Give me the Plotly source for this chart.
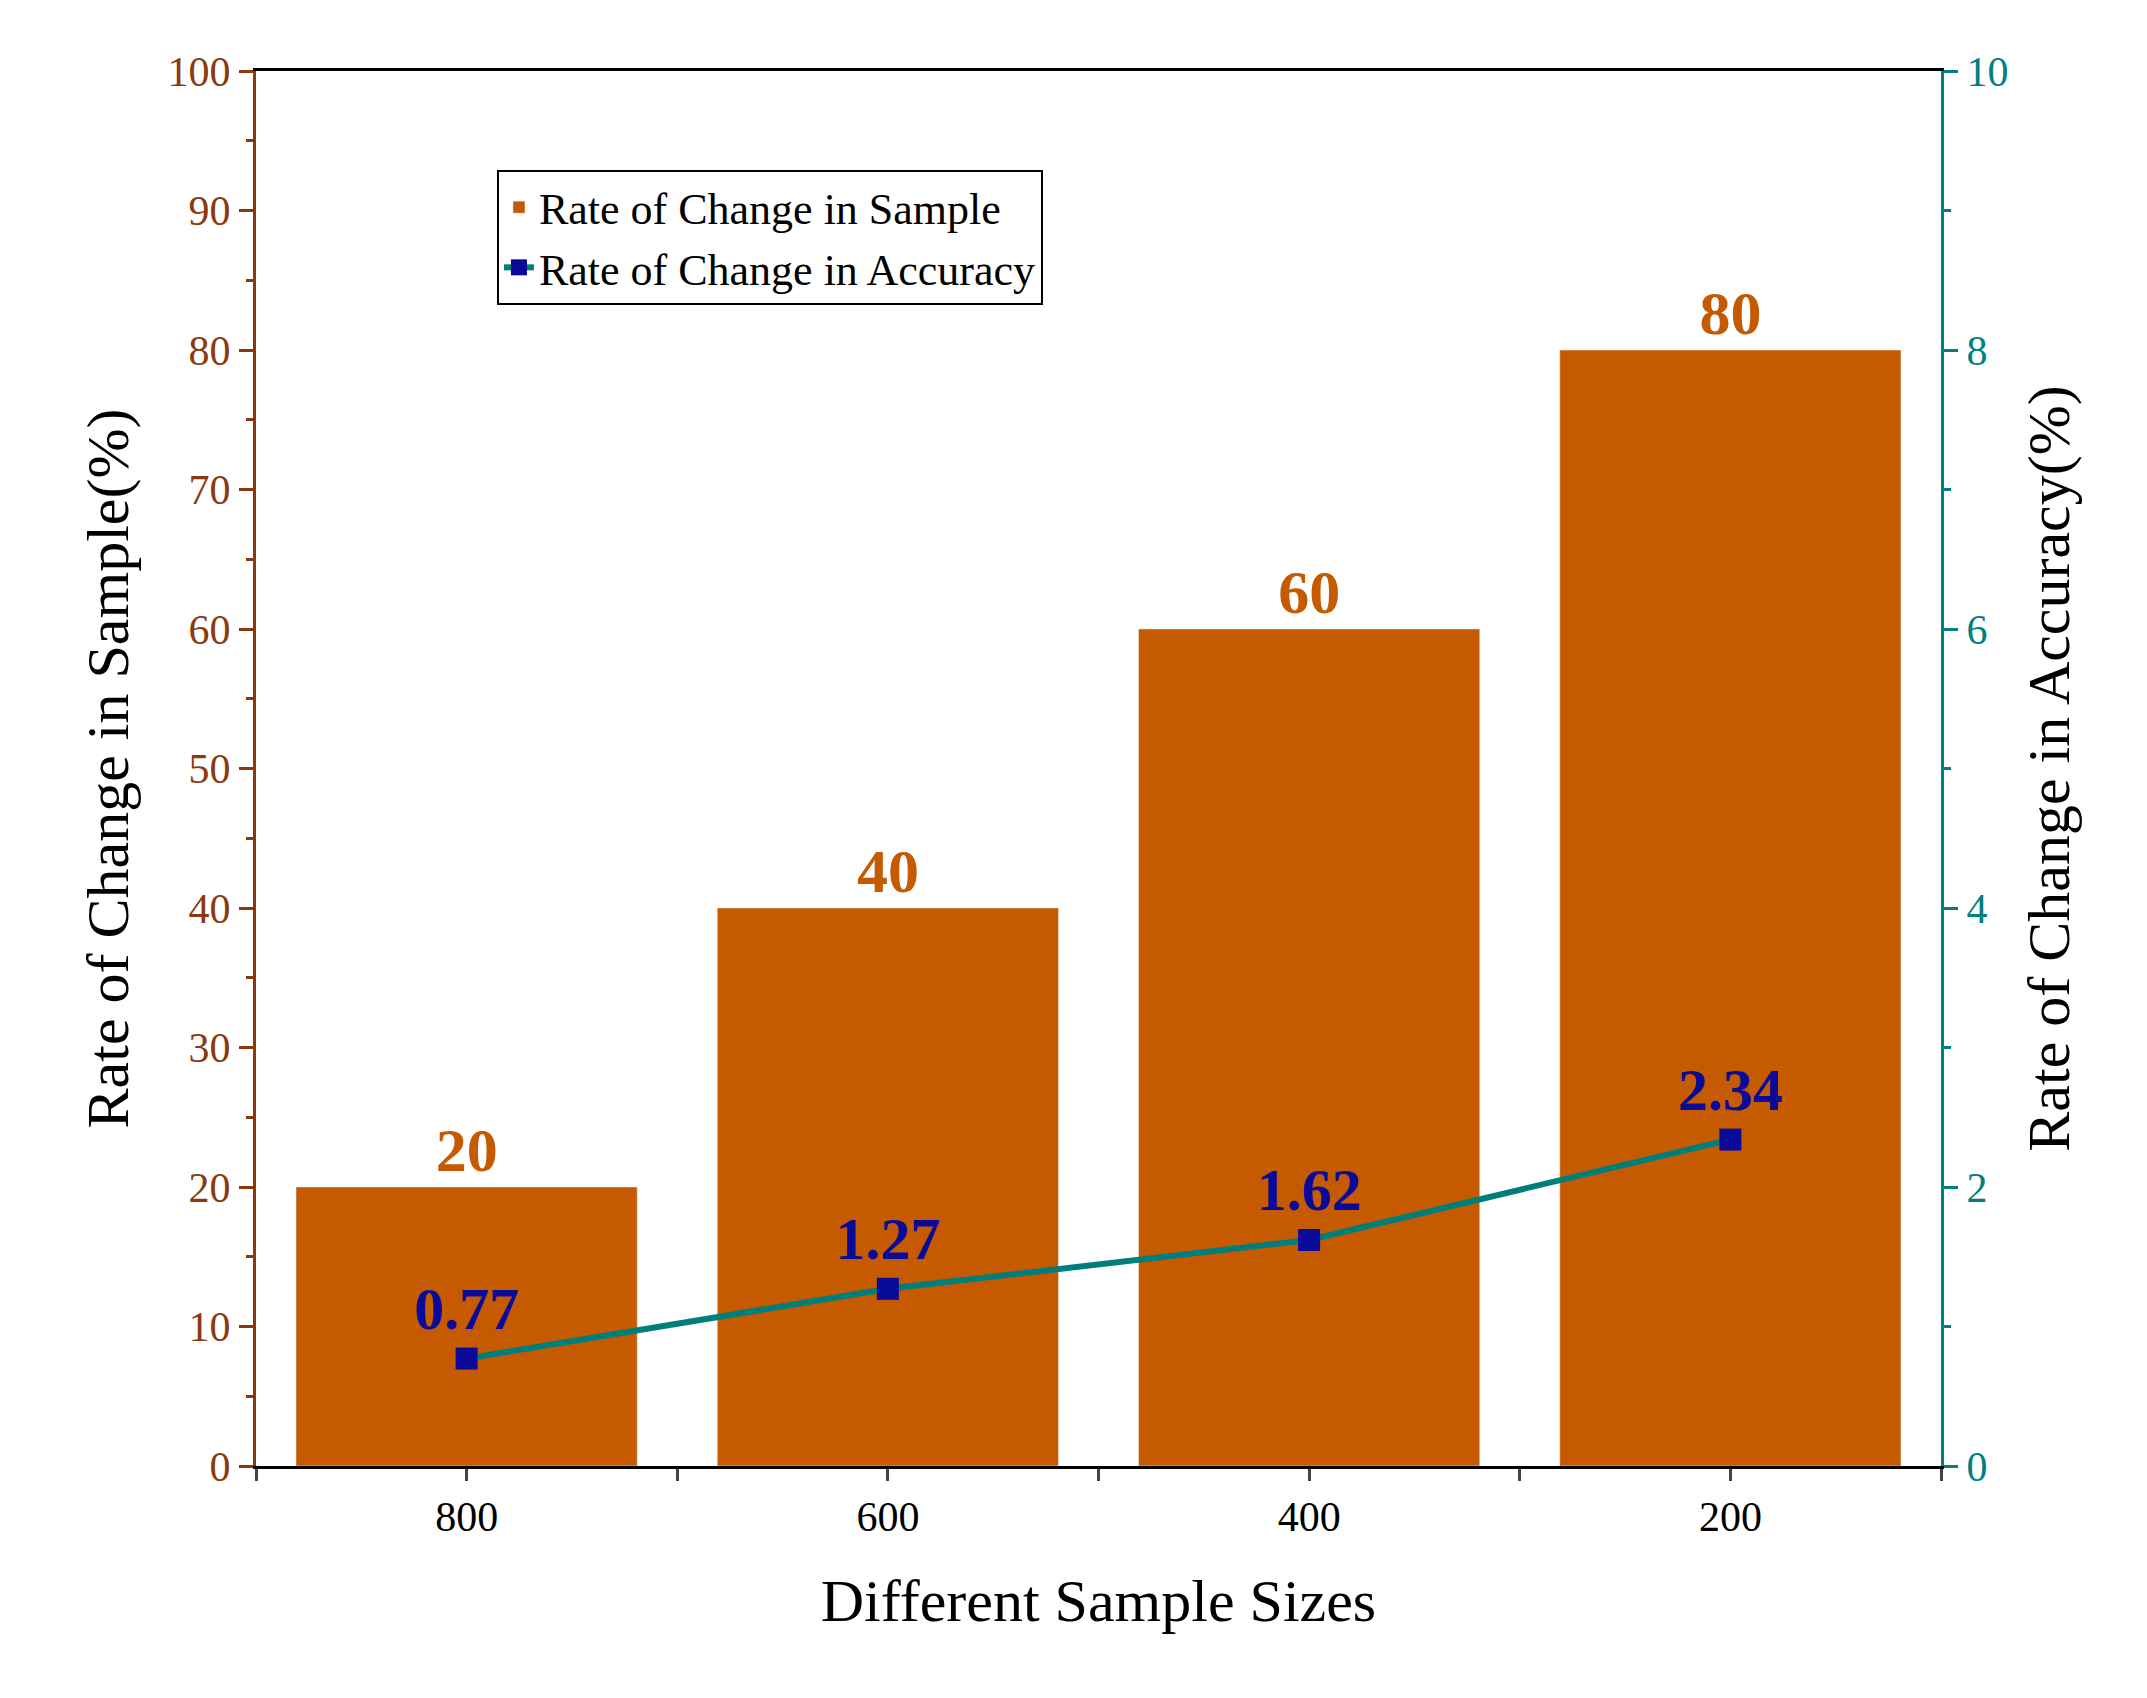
import plotly.graph_objects as go

categories = ["800", "600", "400", "200"]
sample_rate = [20, 40, 60, 80]
accuracy_rate = [0.77, 1.27, 1.62, 2.34]

xpos = list(range(len(categories)))
F = "Liberation Serif"
BROWN = "#8B3A0F"
TEAL = "#008080"

fig = go.Figure()
fig.add_trace(go.Bar(x=xpos, y=sample_rate, width=0.81, marker_color="#C55A00",
                     name="Rate of Change in Sample",
                     text=[str(v) for v in sample_rate], textposition="outside",
                     textfont=dict(family=F, size=62, color="#C55A00"),
                     texttemplate="<b>%{text}</b>", cliponaxis=False))
fig.add_trace(go.Scatter(x=xpos, y=accuracy_rate, yaxis="y2", mode="lines+markers+text",
                         name="Rate of Change in Accuracy",
                         line=dict(color="#007F7A", width=6),
                         marker=dict(symbol="square", size=22, color="#0A0A9A"),
                         text=["<b>%.2f</b>" % v for v in accuracy_rate],
                         textposition="top center",
                         textfont=dict(family=F, size=60, color="#0A0A9A"), cliponaxis=False))

tv, tt = [], []
for i in range(-1, 8):
    v = i * 0.5 - 0.0
    if -0.5 <= v <= 3.5:
        tv.append(v)
        tt.append(categories[int(v)] if v == int(v) and 0 <= v <= 3 else "")

fig.update_layout(
    width=2147, height=1698, plot_bgcolor="white", paper_bgcolor="white",
    margin=dict(l=248, r=214, t=63, b=240),
    font=dict(family=F, size=40, color="black"),
    showlegend=True,
    legend=dict(x=0.143, y=0.929, xanchor="left", yanchor="top",
                bordercolor="black", borderwidth=2, bgcolor="white",
                font=dict(family=F, size=44)),
    xaxis=dict(range=[-0.5, 3.5], tickvals=tv, ticktext=tt, ticks="outside",
               ticklen=12, tickwidth=3, showline=True, linecolor="black", linewidth=3,
               mirror=True, showgrid=False, zeroline=False,
               tickfont=dict(size=42),
               title=dict(text="Different Sample Sizes", font=dict(size=60), standoff=40)),
    yaxis=dict(range=[0, 100], dtick=10, ticks="outside", ticklen=14, tickwidth=3,
               showline=True, linecolor=BROWN, linewidth=3, tickcolor=BROWN,
               tickfont=dict(color=BROWN, size=42), showgrid=False, zeroline=False,
               minor=dict(dtick=5, ticks="outside", ticklen=7, tickwidth=3, tickcolor=BROWN),
               title=dict(text="Rate of Change in Sample(%)", font=dict(size=60), standoff=20)),
    yaxis2=dict(range=[0, 10], dtick=2, overlaying="y", side="right", ticks="outside",
                ticklen=14, tickwidth=3, showline=True, linecolor=TEAL, linewidth=3,
                tickcolor=TEAL, tickfont=dict(color=TEAL, size=42), showgrid=False,
                zeroline=False,
                minor=dict(dtick=1, ticks="outside", ticklen=7, tickwidth=3, tickcolor=TEAL),
                title=dict(text="Rate of Change in Accuracy(%)", font=dict(size=60), standoff=20)),
)
fig.write_html("out.html")
